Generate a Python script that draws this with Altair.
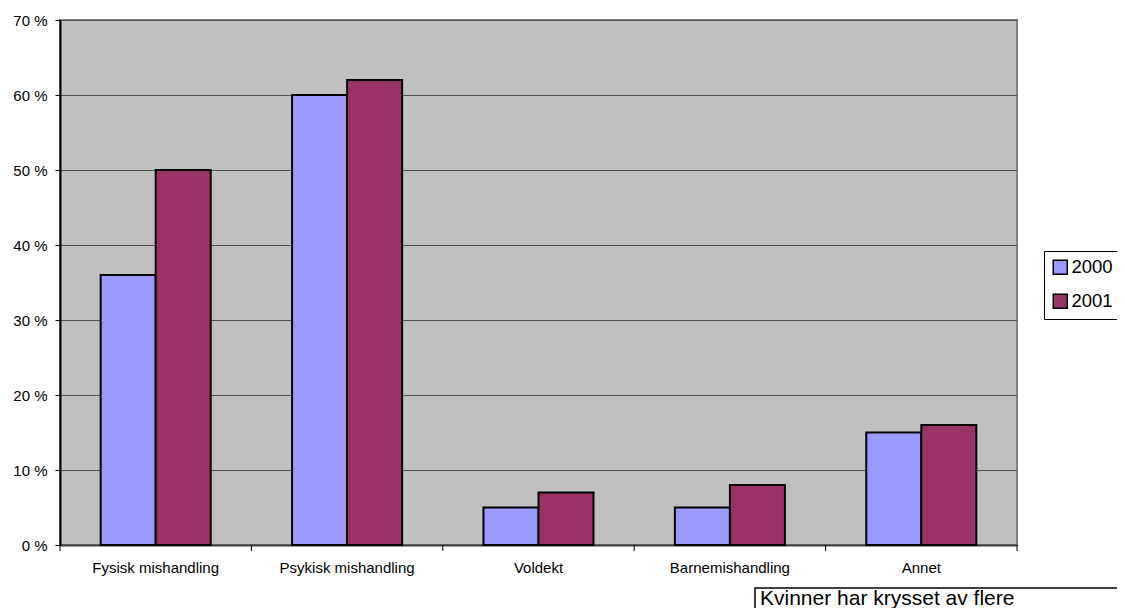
import altair as alt
import pandas as pd

categories = ["Fysisk mishandling", "Psykisk mishandling", "Voldekt", "Barnemishandling", "Annet"]
years = ["2000", "2001"]
values_2000 = [36, 60, 5, 5, 15]
values_2001 = [50, 62, 7, 8, 16]
y_ticks = [0, 10, 20, 30, 40, 50, 60, 70]
boundaries = [0, 1, 2, 3, 4, 5]
note = ["Kvinner har krysset av flere"]

rows = []
for c, a, b in zip(categories, values_2000, values_2001):
    rows.append({"Kategori": c, "År": "2000", "Verdi": a})
    rows.append({"Kategori": c, "År": "2001", "Verdi": b})
df = pd.DataFrame(rows)

W, H = 957, 525
FONT = "Liberation Sans"

bars = alt.Chart(df).mark_bar(stroke="black", strokeWidth=2).encode(
    x=alt.X("Kategori:N", sort=categories, title=None,
            scale=alt.Scale(paddingInner=0.425, paddingOuter=0.2125),
            axis=alt.Axis(labelAngle=0, ticks=False, tickSize=0, labelPadding=15,
                          labelFontSize=15, labelFont=FONT, labelColor="black",
                          domainColor="#404040", domainWidth=2, grid=False)),
    xOffset=alt.XOffset("År:N", scale=alt.Scale(paddingInner=0, paddingOuter=0)),
    y=alt.Y("Verdi:Q", title=None,
            scale=alt.Scale(domain=[0, 70], nice=False),
            axis=alt.Axis(values=y_ticks, labelExpr="datum.value + ' %'",
                          labelFontSize=15, labelFont=FONT, labelColor="black",
                          tickSize=5, tickColor="black", labelPadding=8,
                          domainColor="black", domainWidth=2,
                          grid=True, gridColor="#505050", gridWidth=1.2)),
    color=alt.Color("År:N", scale=alt.Scale(domain=years, range=["#9999FF", "#993366"]),
                    legend=alt.Legend(title=None, orient="none", legendX=984, legendY=231,
                                      symbolType="square", symbolSize=196,
                                      symbolStrokeColor="black", symbolStrokeWidth=1.5,
                                      labelFontSize=18.5, labelFont=FONT, labelColor="black",
                                      strokeColor="black", fillColor="white",
                                      padding=7, rowPadding=13, labelOffset=2)),
)

tick_df = pd.DataFrame({"b": boundaries})
ticks = alt.Chart(tick_df).mark_rule(color="black", strokeWidth=1).encode(
    x=alt.X("b:Q", scale=alt.Scale(domain=[0, 5], nice=False, zero=False), axis=None),
    y=alt.value(H),
    y2=alt.value(H + 6),
)

note_df = pd.DataFrame({"t": note})
box = alt.Chart(note_df).mark_rect(fill="white", stroke="black", strokeWidth=1.5).encode(
    x=alt.value(695), x2=alt.value(1110), y=alt.value(568), y2=alt.value(640),
)
txt = alt.Chart(note_df).mark_text(align="left", baseline="alphabetic", fontSize=21,
                                   font=FONT, color="black").encode(
    x=alt.value(700), y=alt.value(585), text="t:N",
)

chart = alt.layer(bars, ticks, box, txt).resolve_scale(x="independent").properties(
    width=W, height=H,
    autosize=alt.AutoSizeParams(type="none"),
    padding={"left": 52, "top": 12, "right": 100, "bottom": 63},
    background="white",
).configure_view(
    fill="#C0C0C0", stroke="#808080", strokeWidth=2,
)

chart.save("out.html", embed_options={"renderer": "svg", "actions": False})
